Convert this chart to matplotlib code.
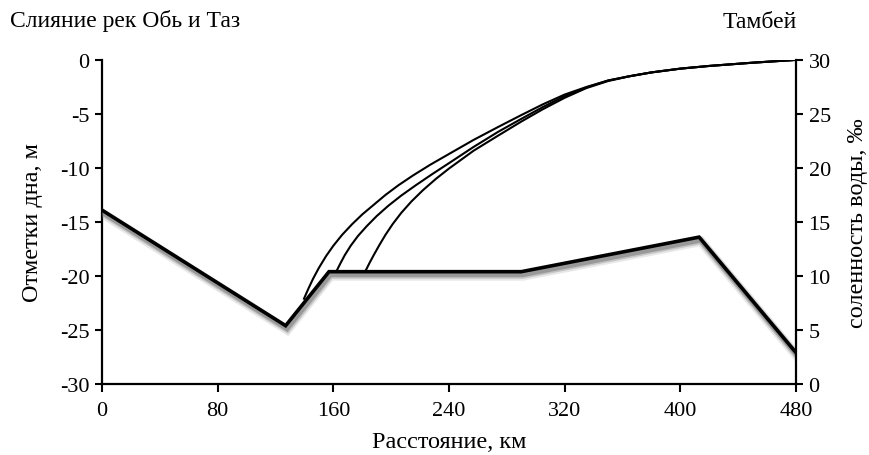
import matplotlib
matplotlib.use("Agg")
import matplotlib.pyplot as plt
import matplotlib.patheffects as pe

plt.rcParams['font.family'] = ['Liberation Serif', 'DejaVu Serif']
plt.rcParams['axes.unicode_minus'] = False

# Bottom elevation profile (left axis, m)
bed_km = [0, 127, 157, 290, 413, 480]
bed_m = [-13.9, -24.6, -19.6, -19.6, -16.4, -27.1]

# Salinity curves (right axis, permille)
salA_km = [139.7, 143, 146, 150, 155, 160, 166, 173, 180, 188, 196, 205, 215, 227, 240, 257, 274, 290, 305, 320, 335, 350, 365, 380, 400, 420, 450, 479]
salA_v = [7.9, 8.9, 9.75, 10.75, 11.85, 12.8, 13.8, 14.8, 15.7, 16.6, 17.5, 18.4, 19.3, 20.3, 21.3, 22.6, 23.8, 24.9, 25.9, 26.8, 27.5, 28.1, 28.5, 28.85, 29.2, 29.45, 29.75, 30.0]

salB_km = [162, 165, 168, 172, 177, 183, 190, 198, 207, 217, 228, 240, 257, 274, 290, 305, 320, 335, 350, 365, 380, 400, 420, 450, 479]
salB_v = [10.4, 11.2, 11.95, 12.8, 13.7, 14.6, 15.55, 16.5, 17.45, 18.4, 19.4, 20.45, 21.95, 23.35, 24.55, 25.65, 26.65, 27.45, 28.1, 28.5, 28.85, 29.2, 29.45, 29.75, 30.0]

salC_km = [182, 185, 188, 192, 196, 201, 207, 214, 222, 231, 240, 257, 274, 290, 305, 320, 335, 350, 365, 380, 400, 420, 450, 479]
salC_v = [10.4, 11.2, 11.95, 12.9, 13.8, 14.8, 15.85, 16.9, 17.95, 19.0, 19.95, 21.6, 23.0, 24.3, 25.45, 26.5, 27.4, 28.05, 28.5, 28.85, 29.2, 29.45, 29.75, 30.0]

x_ticks = [0, 80, 160, 240, 320, 400, 480]
left_ticks = [0, -5, -10, -15, -20, -25, -30]
right_ticks = [0, 5, 10, 15, 20, 25, 30]

fig = plt.figure(figsize=(8.69, 4.56), dpi=100)
ax = fig.add_axes([102/869, 1-385/456, (796-102)/869, (385-61)/456])
ax2 = ax.twinx()

shadow = [
    pe.SimpleLineShadow(offset=(1.2, -3.0), shadow_color='0.5', alpha=0.18, linewidth=7),
    pe.SimpleLineShadow(offset=(1.2, -2.6), shadow_color='0.45', alpha=0.3, linewidth=5),
    pe.SimpleLineShadow(offset=(1.0, -2.2), shadow_color='0.4', alpha=0.45, linewidth=3.5),
    pe.Normal(),
]
ax.plot(bed_km, bed_m, color='black', lw=2.6, solid_joinstyle='miter',
        path_effects=shadow, zorder=3)

for xs, ys in [(salA_km, salA_v), (salB_km, salB_v), (salC_km, salC_v)]:
    ax2.plot(xs, ys, color='black', lw=1.5, solid_joinstyle='round')

ax.set_xlim(0, 480)
ax.set_ylim(-30, 0)
ax2.set_ylim(0, 30)
ax.set_xticks(x_ticks)
ax.set_yticks(left_ticks)
ax2.set_yticks(right_ticks)

for a in (ax, ax2):
    a.spines['top'].set_visible(False)
    for s in a.spines.values():
        s.set_linewidth(1.6)
    a.tick_params(direction='out', length=5, width=1.5, labelsize=16, pad=4)
ax.tick_params(axis='x', length=6, pad=6)
ax.spines['right'].set_visible(False)
ax2.spines['left'].set_visible(False)
ax2.spines['bottom'].set_visible(False)

ax.set_xlabel('Расстояние, км', fontsize=17.5, labelpad=8)
ax.set_ylabel('Отметки дна, м', fontsize=17.5, labelpad=12)
ax2.set_ylabel('соленность воды, ‰', fontsize=17.5, labelpad=12)

fig.text(10/869, 1-21/456, 'Слияние рек Обь и Таз', fontsize=17, ha='left', va='center')
fig.text(760/869, 1-22/456, 'Тамбей', fontsize=17, ha='center', va='center')

fig.savefig('out.png', dpi=100)
